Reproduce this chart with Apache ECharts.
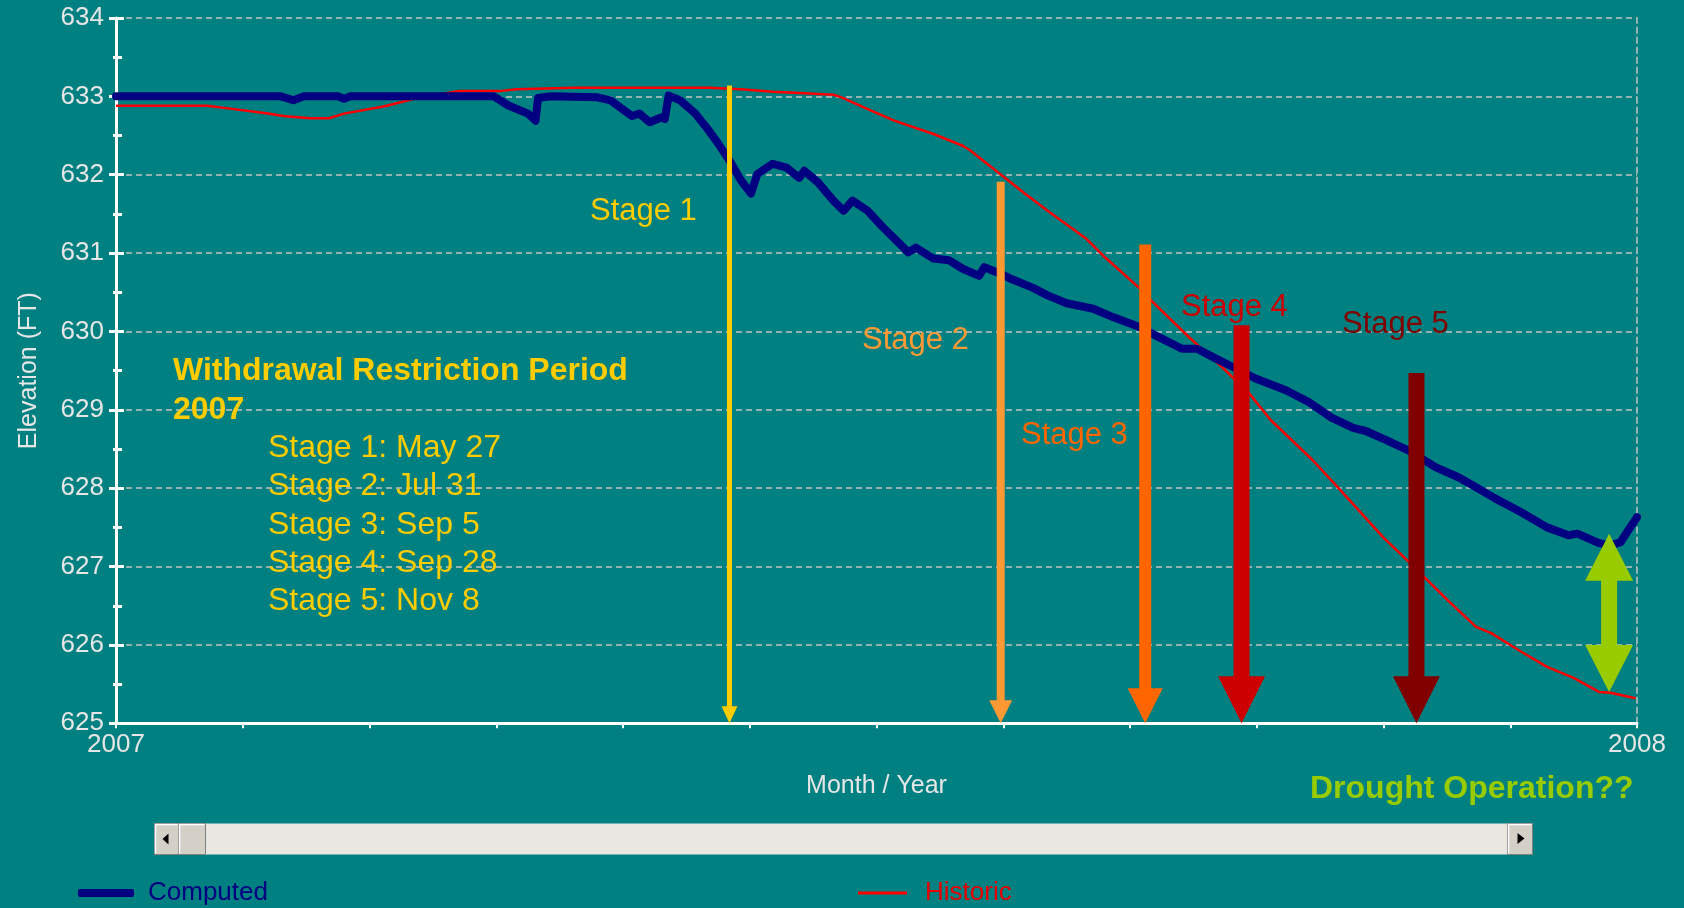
<!DOCTYPE html>
<html>
<head>
<meta charset="utf-8">
<title>Elevation 2007</title>
<script src="https://cdn.jsdelivr.net/npm/echarts@6/dist/echarts.min.js"></script>
<style>
  html, body { margin: 0; padding: 0; background: #008080; }
  #chart { width: 1684px; height: 908px; }
</style>
</head>
<body>
<div id="chart"></div>
<script>
// x values are months since Jan 1 2007 (0 = 2007, 12 = 2008)
var yearLabels = ['2007', '2008'];

var computedMonths = [0, 1.30, 1.40, 1.48, 1.75, 1.80, 1.85, 2.98, 3.10, 3.25, 3.31, 3.33, 3.42, 3.79, 3.90,
    4.07, 4.13, 4.21, 4.30, 4.33, 4.36, 4.45, 4.57, 4.66, 4.75, 4.84, 4.93, 5.01, 5.06, 5.18, 5.29, 5.39, 5.43,
    5.54, 5.66, 5.74, 5.81, 5.93, 6.05, 6.17, 6.25, 6.31, 6.45, 6.57, 6.68, 6.81, 6.85, 6.96, 7.05, 7.23, 7.35,
    7.50, 7.71, 7.87, 8.07, 8.20, 8.41, 8.53, 8.67, 8.82, 8.99, 9.23, 9.41, 9.59, 9.76, 9.86, 10.0, 10.2, 10.41,
    10.59, 10.70, 10.88, 11.09, 11.29, 11.46, 11.53, 11.70, 11.79, 11.87, 11.93, 12.0];
var computedElev = [633.0, 633.0, 632.95, 633.0, 633.0, 632.97, 633.0, 633.0, 632.88, 632.78, 632.69, 632.98, 633.0, 632.99, 632.95,
    632.75, 632.78, 632.67, 632.73, 632.71, 633.01, 632.95, 632.78, 632.60, 632.40, 632.18, 631.93, 631.76, 632.01, 632.14, 632.09, 631.96, 632.05,
    631.90, 631.67, 631.54, 631.67, 631.54, 631.33, 631.14, 631.01, 631.07, 630.93, 630.91, 630.80, 630.71, 630.82, 630.75, 630.68, 630.56, 630.46,
    630.36, 630.29, 630.18, 630.06, 629.95, 629.78, 629.78, 629.66, 629.54, 629.40, 629.25, 629.10, 628.90, 628.77, 628.73, 628.63, 628.48, 628.27,
    628.14, 628.04, 627.87, 627.69, 627.50, 627.40, 627.42, 627.30, 627.27, 627.31, 627.46, 627.63];

var historicMonths = [0, 0.72, 0.87, 1.20, 1.32, 1.53, 1.68, 1.80, 2.11, 2.41, 2.71, 3.04, 3.16, 3.61, 4.68, 4.69,
    4.93, 5.18, 5.43, 5.66, 5.72, 5.90, 6.14, 6.45, 6.68, 6.74, 6.99, 7.17, 7.35, 7.65, 7.80, 8.07, 8.17, 8.47,
    8.73, 8.94, 9.11, 9.44, 9.64, 10.0, 10.2, 10.52, 10.73, 10.85, 11.09, 11.29, 11.50, 11.70, 11.79, 11.99];
var historicElev = [632.88, 632.88, 632.85, 632.78, 632.75, 632.72, 632.72, 632.78, 632.87, 632.99, 633.07, 633.07, 633.09, 633.11, 633.11, 633.09,
    633.09, 633.06, 633.04, 633.02, 632.99, 632.86, 632.69, 632.52, 632.37, 632.31, 631.99, 631.76, 631.54, 631.19, 630.95, 630.56, 630.39, 629.92,
    629.54, 629.21, 628.87, 628.36, 628.01, 627.37, 627.06, 626.55, 626.23, 626.15, 625.91, 625.72, 625.58, 625.40, 625.39, 625.32];

var stageNames = ['Stage 1', 'Stage 2', 'Stage 3', 'Stage 4', 'Stage 5'];
var stageDates = ['May 27', 'Jul 31', 'Sep 5', 'Sep 28', 'Nov 8'];
var stageMonths = [4.84, 6.98, 8.12, 8.88, 10.26];
var stageTops = [633.14, 631.91, 631.11, 630.08, 629.47];

var droughtMonth = 11.78;
var droughtTop = 627.42;
var droughtBottom = 625.40;

var Y_MIN = 625, Y_MAX = 634;

// styles
var FONT = '"Liberation Sans", Arial, sans-serif';
var stageColors = ['#FFCC00', '#FF9933', '#FF6600', '#CC0000', '#800000'];
// shaft width, head width, head height (px)
var arrowSizes = [[5, 16, 17], [8, 23, 23], [12, 35, 35], [16, 47, 47], [16, 47, 47]];
var droughtColor = '#99CC00';

function stageArrow(params, api) {
    var top = api.coord([api.value(0), api.value(1)]);
    var bot = api.coord([api.value(0), api.value(2)]);
    var s = arrowSizes[params.dataIndex];
    var x = top[0], sw = s[0] / 2, hw = s[1] / 2, hh = s[2];
    return {
        type: 'polygon',
        shape: { points: [[x - sw, top[1]], [x + sw, top[1]], [x + sw, bot[1] - hh], [x + hw, bot[1] - hh],
            [x, bot[1]], [x - hw, bot[1] - hh], [x - sw, bot[1] - hh]] },
        style: { fill: stageColors[params.dataIndex] }
    };
}

function doubleArrow(params, api) {
    var t = api.coord([api.value(0), api.value(1)]);
    var b = api.coord([api.value(0), api.value(2)]);
    var x = t[0], sw = 8, hw = 24, hh = 47;
    return {
        type: 'polygon',
        shape: { points: [[x, t[1]], [x + hw, t[1] + hh], [x + sw, t[1] + hh], [x + sw, b[1] - hh], [x + hw, b[1] - hh],
            [x, b[1]], [x - hw, b[1] - hh], [x - sw, b[1] - hh], [x - sw, t[1] + hh], [x - hw, t[1] + hh]] },
        style: { fill: droughtColor }
    };
}

function label(text, left, y, color, size, bold) {
    return {
        type: 'text', left: left, top: y - size / 2 + 2, z: 50,
        style: { text: text, fill: color, font: (bold ? 'bold ' : '') + size + 'px ' + FONT }
    };
}

var stageLabelPos = [[590, 209], [862, 338], [1021, 433], [1181, 305], [1342, 322]];

var graphics = [];
graphics.push(label('Withdrawal Restriction Period', 173, 369, '#FFCC00', 32, true));
graphics.push(label('2007', 173, 408, '#FFCC00', 32, true));
for (var i = 0; i < stageNames.length; i++) {
    graphics.push(label(stageNames[i] + ': ' + stageDates[i], 268, 446 + i * 38.4, '#FFCC00', 32, false));
    graphics.push(label(stageNames[i], stageLabelPos[i][0], stageLabelPos[i][1], stageColors[i], 31, false));
}
graphics.push(label('Drought Operation??', 1310, 787, droughtColor, 32, true));

// fake scrollbar under the plot
graphics.push({
    type: 'group', left: 153, top: 822, z: 40,
    children: [
        { type: 'rect', shape: { x: 0, y: 0, width: 1378, height: 31 }, style: { fill: '#E9E7E2' } },
        { type: 'rect', shape: { x: 0, y: 0, width: 24, height: 31 }, style: { fill: '#D4D0C8', stroke: '#808080', lineWidth: 1 } },
        { type: 'polyline', shape: { points: [[1, 30], [1, 1], [23, 1]] }, style: { stroke: '#FFFFFF', lineWidth: 1.5 } },
        { type: 'polygon', shape: { points: [[8, 15.5], [14, 10], [14, 21]] }, style: { fill: '#000000' } },
        { type: 'rect', shape: { x: 24, y: 0, width: 27, height: 31 }, style: { fill: '#D4D0C8', stroke: '#808080', lineWidth: 1 } },
        { type: 'polyline', shape: { points: [[25, 30], [25, 1], [50, 1]] }, style: { stroke: '#FFFFFF', lineWidth: 1.5 } },
        { type: 'rect', shape: { x: 1353, y: 0, width: 25, height: 31 }, style: { fill: '#D4D0C8', stroke: '#808080', lineWidth: 1 } },
        { type: 'polyline', shape: { points: [[1354, 30], [1354, 1], [1377, 1]] }, style: { stroke: '#FFFFFF', lineWidth: 1.5 } },
        { type: 'polygon', shape: { points: [[1370, 15], [1363, 9.5], [1363, 20.5]] }, style: { fill: '#000000' } }
    ]
});

function pairs(xs, ys) {
    return xs.map(function (x, k) { return [x, ys[k]]; });
}

var gridColor = '#C4C4C4';
var textColor = '#E6E6E6';

var myChart = echarts.init(document.getElementById('chart'));

var option = {
    backgroundColor: '#008080',
    animation: false,
    textStyle: { fontFamily: FONT },
    grid: { left: 116, right: 47, top: 18, bottom: 184.7 },
    legend: [
        {
            data: [{ name: 'Computed', icon: 'roundRect' }],
            left: 78, top: 880, padding: 0,
            itemWidth: 56, itemHeight: 8,
            textStyle: { color: '#000080', fontSize: 26, fontFamily: FONT, padding: [0, 0, 0, 9] }
        },
        {
            data: [{ name: 'Historic', icon: 'rect' }],
            left: 858, top: 880, padding: 0,
            itemWidth: 49, itemHeight: 3,
            textStyle: { color: '#E80000', fontSize: 26, fontFamily: FONT, padding: [0, 0, 0, 13] }
        }
    ],
    xAxis: {
        type: 'value', min: 0, max: 12, interval: 1,
        name: 'Month / Year', nameLocation: 'middle', nameGap: 50,
        nameTextStyle: { color: textColor, fontSize: 25, fontFamily: FONT },
        axisLine: { lineStyle: { color: '#FFFFFF', width: 3 } },
        axisTick: { length: 5, lineStyle: { color: '#FFFFFF', width: 2 } },
        axisLabel: {
            color: textColor, fontSize: 26, margin: 9, fontFamily: FONT,
            formatter: function (v) { return v === 0 ? yearLabels[0] : (v === 12 ? yearLabels[1] : ''); }
        },
        splitLine: { show: false }
    },
    yAxis: [
        {
            type: 'value', min: Y_MIN, max: Y_MAX, interval: 1, position: 'left',
            name: 'Elevation (FT)', nameLocation: 'middle', nameGap: 74,
            nameTextStyle: { color: textColor, fontSize: 25, fontFamily: FONT },
            axisLine: { show: true, lineStyle: { color: '#FFFFFF', width: 3 } },
            axisTick: { length: 7, lineStyle: { color: '#FFFFFF', width: 3 } },
            minorTick: { show: true, splitNumber: 2, length: 3, lineStyle: { color: '#FFFFFF', width: 3 } },
            axisLabel: { color: textColor, fontSize: 26, margin: 12, fontFamily: FONT },
            splitLine: { lineStyle: { color: gridColor, type: [6, 4], width: 1.5 } }
        },
        {
            type: 'value', min: Y_MIN, max: Y_MAX, interval: 1, position: 'left',
            axisLine: { show: false },
            axisTick: { inside: true, length: 8, lineStyle: { color: '#FFFFFF', width: 3 } },
            minorTick: { show: true, splitNumber: 2, length: 6, lineStyle: { color: '#FFFFFF', width: 3 } },
            axisLabel: { show: false },
            splitLine: { show: false }
        },
        {
            type: 'value', min: Y_MIN, max: Y_MAX, interval: 1, position: 'right',
            axisLine: { show: true, lineStyle: { color: gridColor, type: [6, 4], width: 1.5 } },
            axisTick: { show: false },
            axisLabel: { show: false },
            splitLine: { show: false }
        }
    ],
    series: [
        {
            name: 'Historic', type: 'line', symbol: 'none', z: 3,
            data: pairs(historicMonths, historicElev),
            lineStyle: { color: '#FF0000', width: 2.5 },
            itemStyle: { color: '#FF0000' }
        },
        {
            name: 'Computed', type: 'line', symbol: 'none', z: 4,
            data: pairs(computedMonths, computedElev),
            lineStyle: { color: '#000080', width: 8, cap: 'round', join: 'round' },
            itemStyle: { color: '#000080' }
        },
        {
            name: 'stages', type: 'custom', z: 6, clip: false,
            renderItem: stageArrow,
            data: stageMonths.map(function (m, k) { return [m, stageTops[k], Y_MIN]; })
        },
        {
            name: 'drought', type: 'custom', z: 6, clip: false,
            renderItem: doubleArrow,
            data: [[droughtMonth, droughtTop, droughtBottom]]
        }
    ],
    graphic: graphics
};

myChart.setOption(option);
</script>
</body>
</html>
